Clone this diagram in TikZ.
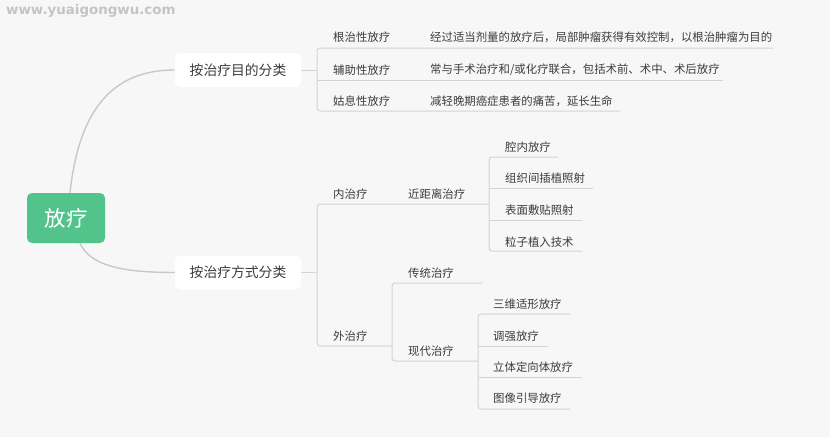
\documentclass[tikz,border=0pt]{standalone}
\usepackage{fontspec}
\newfontfamily\cjk{Noto Sans CJK SC}
\newfontfamily\wmfont{DejaVu Sans}
\definecolor{bg}{HTML}{F7F7F7}
\definecolor{rootgreen}{HTML}{52C48B}
\definecolor{linegray}{HTML}{D4D4D4}
\definecolor{curvegray}{HTML}{C8C8C8}
\definecolor{txt}{HTML}{3C3C3C}
\definecolor{wm}{HTML}{C4C4C4}
\begin{document}
\begin{tikzpicture}[x=1pt,y=-1pt,
  lbl/.style={anchor=west,inner sep=0pt,text=txt,font=\cjk\fontsize{11.4}{12}\selectfont},
  branch/.style={fill=white,rounded corners=5pt,minimum width=126pt,minimum height=34pt,inner sep=0pt,text=txt,font=\cjk\fontsize{13.8}{15}\selectfont},
  rootbox/.style={fill=rootgreen,rounded corners=5pt,minimum width=78pt,minimum height=50pt,inner sep=0pt,text=white,font=\cjk\fontsize{21.5}{24}\selectfont},
  tline/.style={draw=linegray,line width=1pt,rounded corners=3pt},
  curve/.style={draw=curvegray,line width=1.4pt}]
\useasboundingbox (0,0) rectangle (830,437);
\fill[bg] (0,0) rectangle (830,437);
% watermark
\node[anchor=west,inner sep=0pt,text=wm,font=\wmfont\bfseries\fontsize{13.4}{14}\selectfont] (wmark) at (6,11) {www.yuaigongwu.com};
% main nodes
\node[rootbox] (root) at (66,218) {放疗};
\node[branch] (b1) at (238,70) {按治疗目的分类};
\node[branch] (b2) at (238,272.5) {按治疗方式分类};
\draw[curve] ([xshift=4pt]root.north) .. controls (80,100) and (120,70) .. (b1.west);
\draw[curve] ([xshift=14pt]root.south) .. controls (90,265) and (120,272.5) .. (b2.west);
% branch 1
\node[lbl] (g1) at (333,37) {根治性放疗};
\node[lbl] (g1d) at (430,37) {经过适当剂量的放疗后，局部肿瘤获得有效控制，以根治肿瘤为目的};
\node[lbl] (g2) at (333,70) {辅助性放疗};
\node[lbl] (g2d) at (430,70) {常与手术治疗和/或化疗联合，包括术前、术中、术后放疗};
\node[lbl] (g3) at (333,101) {姑息性放疗};
\node[lbl] (g3d) at (430,101) {减轻晚期癌症患者的痛苦，延长生命};
\coordinate (j1) at (317,70);
\coordinate (u1) at (773,48);
\coordinate (u2) at (723,80);
\coordinate (u3) at (620,111);
\draw[tline] (b1.east) -- (j1);
\draw[tline] (u1) -- (317,48) -- (317,111) -- (u3);
\draw[tline] (317,80) -- (u2);
% branch 2
\node[lbl] (n1) at (333,194) {内治疗};
\node[lbl] (n2) at (408,194) {近距离治疗};
\node[lbl] (n3) at (505,147) {腔内放疗};
\node[lbl] (n4) at (505,178) {组织间插植照射};
\node[lbl] (n5) at (505,210) {表面敷贴照射};
\node[lbl] (n6) at (505,242) {粒子植入技术};
\node[lbl] (w1) at (333,336) {外治疗};
\node[lbl] (w2) at (408,273) {传统治疗};
\node[lbl] (w3) at (408,351) {现代治疗};
\node[lbl] (w4) at (493,304) {三维适形放疗};
\node[lbl] (w5) at (493,336) {调强放疗};
\node[lbl] (w6) at (493,367) {立体定向体放疗};
\node[lbl] (w7) at (493,398) {图像引导放疗};
\coordinate (j2) at (317,272.5);
\draw[tline] (b2.east) -- (j2);
\coordinate (k1) at (489,204);
\draw[tline] (k1) -- (317,204) -- (317,346) -- (392,346);
\draw[tline] (558,157) -- (489,157) -- (489,251) -- (582,251);
\draw[tline] (489,188) -- (593,188);
\draw[tline] (489,220) -- (582,220);
\draw[tline] (482,283) -- (392,283) -- (392,361) -- (478,361);
\draw[tline] (570,314) -- (478,314) -- (478,409) -- (570,409);
\draw[tline] (478,346) -- (548,346);
\draw[tline] (478,377) -- (582,377);
\end{tikzpicture}
\end{document}
